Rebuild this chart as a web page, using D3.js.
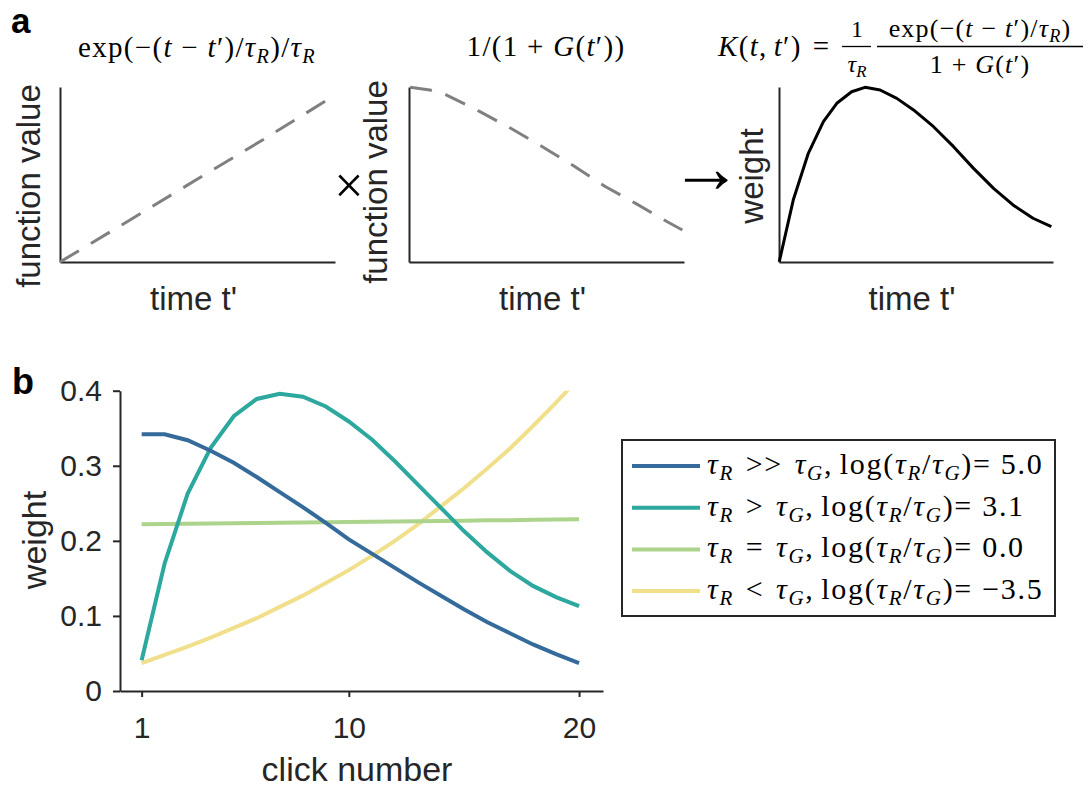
<!DOCTYPE html>
<html><head><meta charset="utf-8">
<script src="https://cdn.jsdelivr.net/npm/d3@7"></script>
<style>
body{margin:0;background:#fff;}
svg{display:block;}
</style></head>
<body>
<svg id="chart" width="1089" height="787"></svg>
<script>
// ---------------- DATA ----------------
// Panel a (schematic curves, normalised time t' and value)
const a1Time = [0, 0.25, 0.5, 0.75, 0.989];
const a1Value = [0, 0.236, 0.474, 0.71, 0.943];
const a2Time = [0.004, 0.076, 0.137, 0.258, 0.37, 0.485, 0.594, 0.715, 0.824, 0.939, 0.994];
const a2Value = [0.998, 0.983, 0.954, 0.859, 0.764, 0.659, 0.554, 0.43, 0.335, 0.23, 0.183];
const a3Time = [0.001, 0.052, 0.107, 0.162, 0.211, 0.265, 0.314, 0.369, 0.43, 0.491, 0.564, 0.637, 0.71, 0.783, 0.854, 0.927, 0.994];
const a3Value = [0.002, 0.354, 0.621, 0.802, 0.907, 0.973, 0.998, 0.983, 0.935, 0.869, 0.773, 0.659, 0.535, 0.421, 0.326, 0.25, 0.202];

// Panel b
const clicks = [1,2,3,4,5,6,7,8,9,10,11,12,13,14,15,16,17,18,19,20];
const weightsVeryLong = [0.342,0.342,0.334,0.320,0.304,0.285,0.265,0.245,0.224,0.202,0.183,0.164,0.145,0.127,0.109,0.092,0.077,0.062,0.049,0.037];
const weightsLong = [0.041,0.170,0.263,0.324,0.366,0.389,0.396,0.392,0.379,0.359,0.335,0.306,0.275,0.244,0.213,0.185,0.160,0.140,0.125,0.113];
const weightsEqual = [0.2220,0.2224,0.2227,0.2231,0.2234,0.2238,0.2241,0.2245,0.2248,0.2252,0.2255,0.2259,0.2262,0.2266,0.2269,0.2273,0.2276,0.2280,0.2283,0.2287];
const weightsShort = [0.037,0.048,0.059,0.071,0.084,0.097,0.112,0.127,0.144,0.161,0.180,0.200,0.222,0.246,0.270,0.296,0.323,0.353,0.384,0.417];
const seriesColors = ["#346b9b", "#2ca89f", "#acd48c", "#f0e08c"];
const yTicks = [0, 0.1, 0.2, 0.3, 0.4];
const yTickLabels = ["0", "0.1", "0.2", "0.3", "0.4"];
const xTicks = [1, 10, 20];
const legendRel = [">>", ">", "=", "<"];
const legendLog = ["5.0", "3.1", "0.0", "\u22123.5"];

// ---------------- DRAWING ----------------
const svg = d3.select("#chart");
const SANS = "Liberation Sans, Arial, Helvetica, sans-serif";
const SERIF = "Liberation Serif, Times New Roman, serif";
const AX = "#262626";

function mathText(parent, x, y, size, parts, anchor, ls) {
  const t = parent.append("text").attr("x", x).attr("y", y)
    .attr("font-family", SERIF).attr("font-size", size)
    .attr("text-anchor", anchor || "start").attr("fill", "#000")
    .style("letter-spacing", (ls || 0) + "px");
  let shift = 0;
  parts.forEach(p => {
    const s = p[0], st = p[1] || "n";
    const ts = t.append("tspan").text(s);
    let target = 0;
    if (st === "i") ts.attr("font-style", "italic");
    if (st === "sub") { ts.attr("font-style", "italic").attr("font-size", size * 0.7); target = size * 0.2; }
    if (target !== shift) { ts.attr("dy", target - shift); shift = target; }
  });
  return t;
}

// panel labels
svg.append("text").attr("x", 11).attr("y", 33).attr("font-family", SANS).attr("font-weight", "bold")
  .attr("font-size", 35).attr("fill", "#000").text("a");
svg.append("text").attr("x", 12).attr("y", 394).attr("font-family", SANS).attr("font-weight", "bold")
  .attr("font-size", 36).attr("fill", "#000").text("b");

// ---- small panels ----
function smallPanel(x0, x1, times, values, dashed, ylabel, ylabelX, ylabelY) {
  const x = d3.scaleLinear().domain([0, 1]).range([x0, x1]);
  const y = d3.scaleLinear().domain([0, 1]).range([262, 87]);
  const g = svg.append("g");
  const ax = g.append("g").attr("transform", `translate(${x0},0)`).call(d3.axisLeft(y).tickValues([]).tickSizeOuter(0));
  const bx = g.append("g").attr("transform", `translate(0,262)`).call(d3.axisBottom(x).tickValues([]).tickSizeOuter(0));
  [ax, bx].forEach(a => a.select(".domain").attr("stroke", AX).attr("stroke-width", 2));
  const line = d3.line().x((d, i) => x(times[i])).y(d => y(d));
  g.append("path").datum(values).attr("d", line).attr("fill", "none")
    .attr("stroke", dashed ? "#808080" : "#000").attr("stroke-width", 3)
    .attr("stroke-dasharray", dashed ? "22,14" : null).attr("stroke-linejoin", "round");
  g.append("text").attr("x", (x0 + x1) / 2 - 4).attr("y", 310).attr("text-anchor", "middle")
    .attr("font-family", SANS).attr("font-size", 33).attr("fill", AX).text("time t'");
  g.append("text").attr("transform", `translate(${ylabelX},${ylabelY}) rotate(-90)`).attr("text-anchor", "middle")
    .attr("font-family", SANS).attr("font-size", 33).attr("fill", AX).text(ylabel);
}
smallPanel(60, 335, a1Time, a1Value, true, "function value", 40, 186);
smallPanel(409, 684, a2Time, a2Value, true, "function value", 387, 182);
smallPanel(779, 1053, a3Time, a3Value, false, "weight", 763, 176);

// operators between panels
svg.append("text").attr("x", 349).attr("y", 203).attr("text-anchor", "middle").attr("font-family", SERIF)
  .attr("font-size", 52).attr("font-weight", "normal").attr("fill", "#000").text("\u00d7");
svg.append("text").attr("x", 706).attr("y", 192).attr("text-anchor", "middle").attr("font-family", SERIF)
  .attr("font-size", 72).attr("fill", "#000").text("\u2192");

// formulas
mathText(svg, 197, 57, 29, [["exp"], ["("], ["\u2212"], ["("], ["t", "i"], ["\u2005\u2212\u2005"], ["t", "i"], ["\u2032"], [")"], ["/"], ["\u03c4", "i"], ["R", "sub"], [")"], ["/"], ["\u03c4", "i"], ["R", "sub"]], "middle", 1.3);
mathText(svg, 546, 56, 29, [["1/(1"], ["\u2005+\u2005"], ["G", "i"], ["("], ["t", "i"], ["\u2032"], ["))"]], "middle", 1.3);
mathText(svg, 718, 56, 29, [["K", "i"], ["("], ["t", "i"], [",\u2006"], ["t", "i"], ["\u2032"], [")"], ["\u2004=\u2004"]], "start", 1.3);
mathText(svg, 857, 37, 24, [["1"]], "middle");
mathText(svg, 857, 72, 24, [["\u03c4", "i"], ["R", "sub"]], "middle");
mathText(svg, 980, 37, 26, [["exp"], ["("], ["\u2212"], ["("], ["t", "i"], ["\u2005\u2212\u2005"], ["t", "i"], ["\u2032"], [")"], ["/"], ["\u03c4", "i"], ["R", "sub"], [")"]], "middle", 1.2);
mathText(svg, 980, 73, 26, [["1"], ["\u2005+\u2005"], ["G", "i"], ["("], ["t", "i"], ["\u2032"], [")"]], "middle", 1.2);
svg.append("line").attr("x1", 842).attr("x2", 871).attr("y1", 46.5).attr("y2", 46.5).attr("stroke", "#000").attr("stroke-width", 1.3);
svg.append("line").attr("x1", 877).attr("x2", 1083).attr("y1", 46.5).attr("y2", 46.5).attr("stroke", "#000").attr("stroke-width", 1.3);

// ---- panel b ----
const xb = d3.scaleLinear().domain([0.06, 21.04]).range([120, 603]);
const yb = d3.scaleLinear().domain([0, 0.4]).range([691, 390.7]);
const gb = svg.append("g");
const yAxis = gb.append("g").attr("transform", "translate(120,0)")
  .call(d3.axisLeft(yb).tickValues(yTicks).tickFormat((d, i) => yTickLabels[i]).tickSize(7).tickSizeOuter(0).tickPadding(11));
const xAxis = gb.append("g").attr("transform", "translate(0,691)")
  .call(d3.axisBottom(xb).tickValues(xTicks).tickFormat(d3.format("d")).tickSize(6).tickSizeOuter(0).tickPadding(20));
[yAxis, xAxis].forEach(a => {
  a.select(".domain").attr("stroke", AX).attr("stroke-width", 2);
  a.selectAll(".tick line").attr("stroke", AX).attr("stroke-width", 2);
  a.selectAll(".tick text").attr("font-family", SANS).attr("font-size", 30).attr("fill", AX);
});

svg.append("clipPath").attr("id", "clipb").append("rect").attr("x", 120).attr("y", 390.7).attr("width", 483).attr("height", 300.3);
const seriesAll = [weightsVeryLong, weightsLong, weightsEqual, weightsShort];
const lineB = d3.line().x((d, i) => xb(clicks[i])).y(d => yb(d));
const drawOrder = [3, 2, 1, 0];
drawOrder.forEach(k => {
  gb.append("path").datum(seriesAll[k]).attr("d", lineB).attr("fill", "none")
    .attr("stroke", seriesColors[k]).attr("stroke-width", 4).attr("clip-path", "url(#clipb)");
});

gb.append("text").attr("x", 357).attr("y", 781).attr("text-anchor", "middle").attr("font-family", SANS)
  .attr("font-size", 34).attr("fill", AX).text("click number");
gb.append("text").attr("transform", "translate(46,540) rotate(-90)").attr("text-anchor", "middle").attr("font-family", SANS)
  .attr("font-size", 34).attr("fill", AX).text("weight");

// legend
const lg = svg.append("g");
lg.append("rect").attr("x", 622).attr("y", 440).attr("width", 433).attr("height", 176)
  .attr("fill", "#fff").attr("stroke", AX).attr("stroke-width", 2);
legendRel.forEach((rel, i) => {
  const cy = 466 + i * 41.7;
  lg.append("line").attr("x1", 632).attr("x2", 700).attr("y1", cy).attr("y2", cy)
    .attr("stroke", seriesColors[i]).attr("stroke-width", 4);
  mathText(lg, 707, cy + 8, 30, [["\u03c4", "i"], ["R", "sub"], ["\u2004" + rel + "\u2004"], ["\u03c4", "i"], ["G", "sub"], [",\u2006log("], ["\u03c4", "i"], ["R", "sub"], ["/"], ["\u03c4", "i"], ["G", "sub"], [")=\u2005" + legendLog[i]]], "start", 1.7);
});
</script>
</body></html>
